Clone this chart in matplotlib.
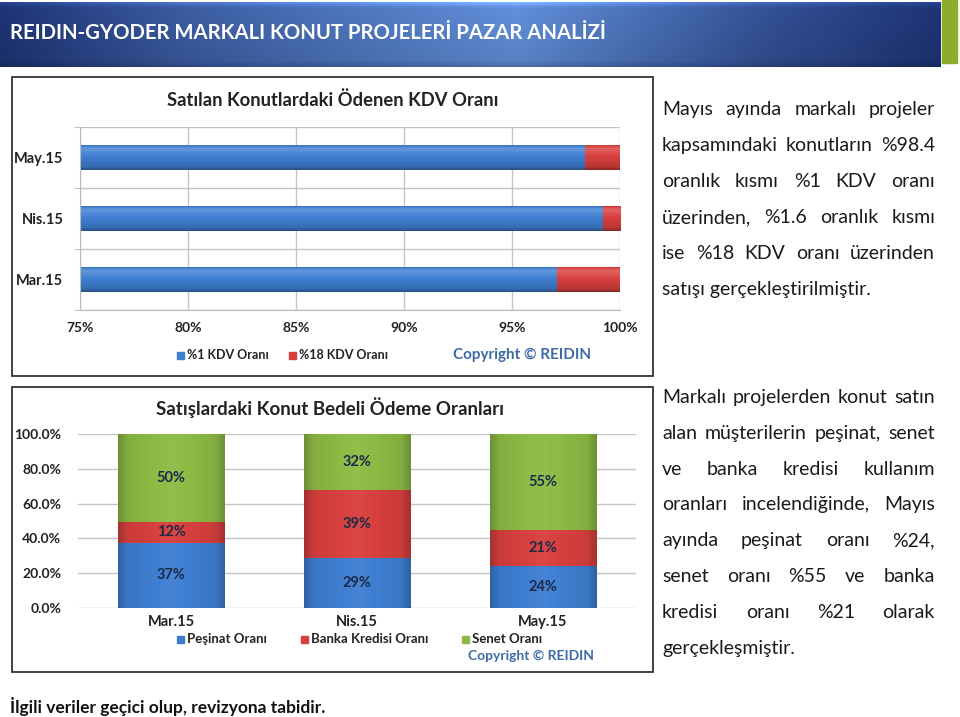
import numpy as np
import matplotlib.pyplot as plt
from matplotlib.patches import Rectangle
from matplotlib.colors import to_rgb

plt.rcParams['font.family'] = ['Lato', 'DejaVu Sans']

W, H = 960, 717

# --- data -------------------------------------------------------------
kdv_months = ['Mar.15', 'Nis.15', 'May.15']
kdv_1 = [97.1, 99.2, 98.4]
kdv_18 = [2.9, 0.8, 1.6]
kdv_ticks = [75, 80, 85, 90, 95, 100]

pay_months = ['Mar.15', 'Nis.15', 'May.15']
pesinat = [37, 29, 24]
banka = [12, 39, 21]
senet = [50, 32, 55]
pay_ticks = [0, 20, 40, 60, 80, 100]

title = 'REIDIN-GYODER MARKALI KONUT PROJELERİ PAZAR ANALİZİ'
para1_lines = ['Mayıs ayında markalı projeler',
               'kapsamındaki konutların %98.4',
               'oranlık kısmı %1 KDV oranı',
               'üzerinden, %1.6 oranlık kısmı',
               'ise %18 KDV oranı üzerinden',
               'satışı gerçekleştirilmiştir.']
para2_lines = ['Markalı projelerden konut satın',
               'alan müşterilerin peşinat, senet',
               've banka kredisi kullanım',
               'oranları incelendiğinde, Mayıs',
               'ayında peşinat oranı %24,',
               'senet oranı %55 ve banka',
               'kredisi oranı %21 olarak',
               'gerçekleşmiştir.']
footnote = 'İlgili veriler geçici olup, revizyona tabidir.'

BLUE = '#3f7fd2'
RED = '#d8403e'
GREEN = '#8dbb45'
LABEL = '#1c2a48'
COPY = '#3e6aa6'


def box(l, t, r, b):
    return [l / W, 1 - b / H, (r - l) / W, (b - t) / H]


def shade(ax, patch, color, horizontal, z=2.1):
    c = np.array(to_rgb(color))
    t = np.linspace(0, 1, 40)
    if horizontal:
        f = np.interp(t, [0, 0.12, 0.55, 0.85, 0.93, 1], [0.62, 0.85, 1.0, 1.18, 1.1, 0.9])
    else:
        f = np.interp(t, [0, 0.08, 0.5, 0.92, 1], [0.78, 0.93, 1.04, 0.93, 0.78])
    cols = np.where(f[:, None] > 1, c + (1 - c) * (f[:, None] - 1), c * f[:, None])
    cols = np.clip(cols, 0, 1)
    x0, y0 = patch.get_x(), patch.get_y()
    w, h = patch.get_width(), patch.get_height()
    img = cols[:, None, :] if horizontal else cols[None, :, :]
    ax.imshow(img, extent=(x0, x0 + w, y0, y0 + h), origin='lower',
              aspect='auto', interpolation='bilinear', zorder=z)


fig = plt.figure(figsize=(9.6, 7.17), dpi=100)

# --- title bar ----------------------------------------------------------
bar = fig.add_axes(box(0, 2, 941, 67))
xs = np.linspace(0, 1, 300)
stops = [0, 0.2, 0.55, 0.8, 1]
left_c = np.array(to_rgb('#1c3170'))
mid_c = np.array(to_rgb('#5d89d0'))
prof = np.interp(xs, stops, [0.0, 0.45, 1.0, 0.35, 0.0])
row = left_c + (mid_c - left_c) * prof[:, None]
ys = np.linspace(0, 1, 60)
vprof = np.interp(ys, [0, 0.1, 0.5, 0.92, 1], [0.8, 0.95, 1.0, 1.05, 1.35])
grad = np.clip(row[None, :, :] * vprof[:, None, None], 0, 1)
bar.imshow(grad, aspect='auto', origin='lower', extent=(0, 1, 0, 1))
bar.set_axis_off()
fig.add_artist(Rectangle((942 / W, 1 - 63 / H), 15 / W, 63 / H,
                         transform=fig.transFigure, color='#8aad2a'))
fig.text(10 / W, 1 - 33 / H, title, color='white', fontsize=14.6,
         fontweight='bold', va='center', ha='left')

# --- frames (behind the chart axes) ----------------------------------------
for t_, b_ in [(77, 376), (387, 672)]:
    fig.add_artist(Rectangle((12 / W, 1 - b_ / H), 641 / W, (b_ - t_) / H,
                             transform=fig.transFigure, facecolor='white',
                             edgecolor='#333333', lw=1.3, zorder=-1))

# --- chart 1: KDV ------------------------------------------------------------
ax1 = fig.add_axes(box(80, 127, 620, 310))
ax1.patch.set_alpha(0)
y = np.arange(len(kdv_months))
b1 = ax1.barh(y, kdv_1, height=0.4, color=BLUE, zorder=2)
b2 = ax1.barh(y, kdv_18, left=kdv_1, height=0.4, color=RED, zorder=2)
for p in b1:
    shade(ax1, p, BLUE, True)
for p in b2:
    shade(ax1, p, RED, True)
ax1.set_xlim(75, 100)
ax1.set_ylim(-0.5, len(kdv_months) - 0.5)
ax1.set_xticks(kdv_ticks)
ax1.set_xticklabels(['%d%%' % v for v in kdv_ticks], fontsize=10, fontweight='bold', color='#222222')
ax1.set_yticks(y)
ax1.set_yticklabels(kdv_months, fontsize=10.5, fontweight='bold', color='#222222')
ax1.set_yticks(np.arange(-0.5, len(kdv_months)), minor=True)
ax1.tick_params(axis='y', which='major', length=0, pad=12)
ax1.tick_params(axis='y', which='minor', length=4, color='#bbbbbb')
ax1.tick_params(axis='x', length=0, pad=9)
ax1.grid(axis='x', color='#c4c4c4', lw=1)
ax1.grid(axis='y', which='minor', color='#c4c4c4', lw=1)
ax1.set_axisbelow(True)
for s in ['top', 'right']:
    ax1.spines[s].set_visible(False)
ax1.spines['left'].set_color('#bbbbbb')
ax1.spines['bottom'].set_color('#bbbbbb')

fig.text(333 / W, 1 - 100 / H, 'Satılan Konutlardaki Ödenen KDV Oranı', fontsize=13.2,
         fontweight='bold', ha='center', va='center', color='#222222')
for x0, col, lab in [(177, BLUE, '%1 KDV Oranı'), (289, RED, '%18 KDV Oranı')]:
    fig.add_artist(Rectangle((x0 / W, 1 - 359 / H), 7 / W, 7 / H,
                             transform=fig.transFigure, color=col))
    fig.text((x0 + 10) / W, 1 - 355 / H, lab, fontsize=9, fontweight='bold',
             va='center', ha='left', color='#222222')
fig.text(522 / W, 1 - 355 / H, 'Copyright © REIDIN', fontsize=11, fontweight='bold',
         ha='center', va='center', color=COPY)

# --- chart 2: payment ratios ------------------------------------------------------
ax2 = fig.add_axes(box(78, 434, 636, 608))
ax2.patch.set_alpha(0)
x = np.arange(len(pay_months))
tot = np.array(pesinat) + np.array(banka) + np.array(senet)
series = [(pesinat, BLUE), (banka, RED), (senet, GREEN)]
bottom = np.zeros(len(x))
for vals, col in series:
    h = np.array(vals) * 100.0 / tot
    bars = ax2.bar(x, h, bottom=bottom, width=0.57, color=col, zorder=2)
    for p, v in zip(bars, vals):
        shade(ax2, p, col, False)
        ax2.text(p.get_x() + p.get_width() / 2, p.get_y() + p.get_height() / 2,
                 '%d%%' % v, ha='center', va='center', fontsize=10.5,
                 fontweight='bold', color=LABEL, zorder=4)
    bottom = bottom + h
ax2.set_xlim(-0.5, len(pay_months) - 0.5)
ax2.set_ylim(0, 100)
ax2.set_yticks(pay_ticks)
ax2.set_yticklabels(['%.1f%%' % v for v in pay_ticks], fontsize=10, fontweight='bold', color='#222222')
ax2.set_xticks(x)
ax2.set_xticklabels(pay_months, fontsize=10.5, fontweight='bold', color='#222222')
ax2.tick_params(axis='y', length=0, pad=12)
ax2.tick_params(axis='x', length=0, pad=5)
ax2.grid(axis='y', color='#c4c4c4', lw=1)
ax2.set_axisbelow(True)
for s in ['top', 'right', 'left', 'bottom']:
    ax2.spines[s].set_visible(False)

fig.text(330 / W, 1 - 408 / H, 'Satışlardaki Konut Bedeli Ödeme Oranları', fontsize=13.5,
         fontweight='bold', ha='center', va='center', color='#222222')
for x0, col, lab in [(177, BLUE, 'Peşinat Oranı'), (301, RED, 'Banka Kredisi Oranı'),
                     (462, GREEN, 'Senet Oranı')]:
    fig.add_artist(Rectangle((x0 / W, 1 - 643 / H), 7 / W, 7 / H,
                             transform=fig.transFigure, color=col))
    fig.text((x0 + 10) / W, 1 - 639 / H, lab, fontsize=9.5, fontweight='bold',
             va='center', ha='left', color='#222222')
fig.text(531 / W, 1 - 656 / H, 'Copyright © REIDIN', fontsize=10, fontweight='bold',
         ha='center', va='center', color=COPY)

# --- justified paragraphs -------------------------------------------------------
renderer = fig.canvas.get_renderer()


def justified(lines, y0, dy, x0=662, x1=935, size=14):
    for i, line in enumerate(lines):
        yy = 1 - (y0 + i * dy + 7) / H  # baseline
        words = line.split(' ')
        if i == len(lines) - 1 or len(words) == 1:
            fig.text(x0 / W, yy, line, fontsize=size, va='baseline', ha='left', color='#1a1a1a')
            continue
        arts = [fig.text(0, yy, w_, fontsize=size, va='baseline', ha='left', color='#1a1a1a')
                for w_ in words]
        widths = [a.get_window_extent(renderer).width for a in arts]
        gap = (x1 - x0 - sum(widths)) / (len(words) - 1)
        pos = x0
        for a, wd in zip(arts, widths):
            a.set_x(pos / W)
            pos += wd + gap


justified(para1_lines, 108, 36)
justified(para2_lines, 396, 35.8)

fig.text(10 / W, 1 - 707 / H, footnote, fontsize=12.5, fontweight='bold',
         va='center', ha='left', color='#111111')

fig.savefig('out.png', dpi=100)
